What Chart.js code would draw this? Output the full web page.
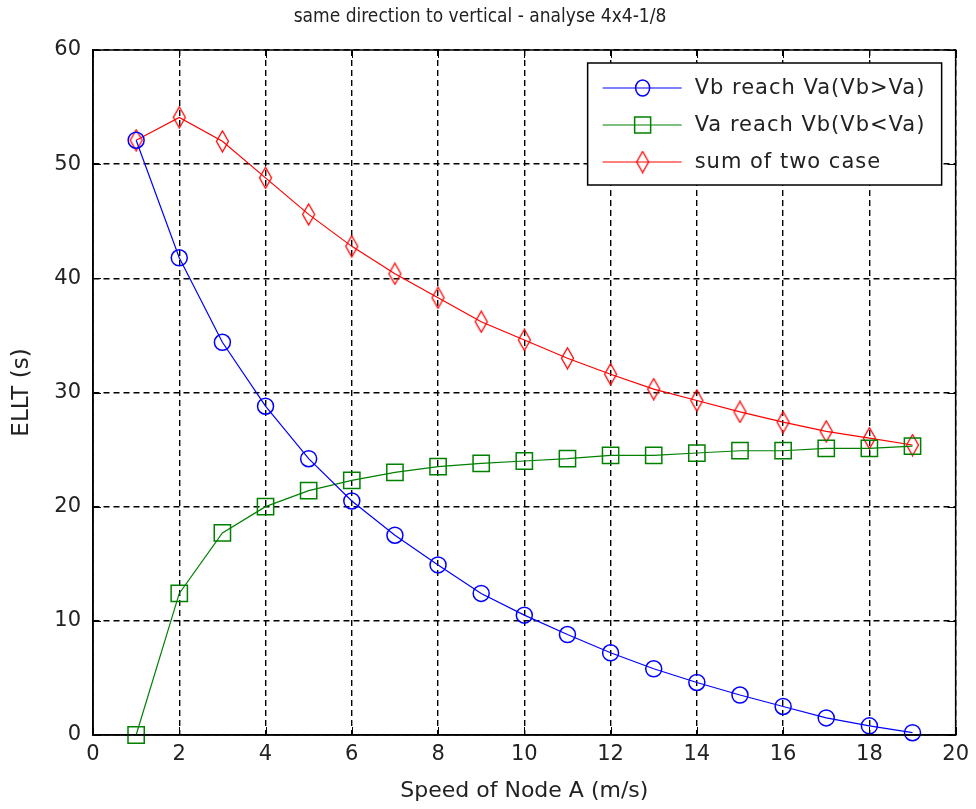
<!DOCTYPE html>
<html>
<head>
<meta charset="utf-8">
<script src="https://cdn.jsdelivr.net/npm/chart.js@4/dist/chart.umd.min.js"></script>
<style>
  body { margin: 0; background: #fff; }
  #wrap { width: 976px; height: 809px; }
</style>
</head>
<body>
<div id="wrap"><canvas id="ellt" width="976" height="809"></canvas></div>
<script>
const speeds = [1, 2, 3, 4, 5, 6, 7, 8, 9, 10, 11, 12, 13, 14, 15, 16, 17, 18, 19];
const vbReachVa = [52.1, 41.8, 34.4, 28.8, 24.2, 20.5, 17.5, 14.9, 12.4, 10.5, 8.8, 7.2, 5.8, 4.6, 3.5, 2.5, 1.5, 0.8, 0.2];
const vaReachVb = [0, 12.4, 17.7, 20.0, 21.4, 22.3, 23.0, 23.5, 23.8, 24.0, 24.2, 24.5, 24.5, 24.7, 24.9, 24.9, 25.1, 25.1, 25.3];
const sumTwoCase = [52.1, 54.1, 52.0, 48.8, 45.6, 42.8, 40.4, 38.3, 36.2, 34.6, 33.0, 31.6, 30.3, 29.3, 28.3, 27.4, 26.6, 26.0, 25.4];
const xTicks = [0, 2, 4, 6, 8, 10, 12, 14, 16, 18, 20];
const yTicks = [0, 10, 20, 30, 40, 50, 60];

const FONT = "'DejaVu Sans', Verdana, sans-serif";
const TITLE_FONT = "'DejaVu Sans Condensed', 'DejaVu Sans', sans-serif";

// tall narrow diamond like the matlab marker
function diamondMarker(color) {
  const c = document.createElement('canvas');
  c.width = 15; c.height = 23;
  const g = c.getContext('2d');
  g.strokeStyle = color;
  g.lineWidth = 1.3;
  g.beginPath();
  g.moveTo(7.5, 1); g.lineTo(13.5, 11.5); g.lineTo(7.5, 22); g.lineTo(1.5, 11.5);
  g.closePath();
  g.stroke();
  return c;
}
const redDiamond = diamondMarker('#ff0000');

function toPoints(ys) {
  return speeds.map((x, i) => ({ x: x, y: ys[i] }));
}

// frame, inward ticks and a matlab-ish legend box
const matlabBox = {
  id: 'matlabBox',
  afterDatasetsDraw(chart) {
    const ctx = chart.ctx;
    const a = chart.chartArea;
    const xs = chart.scales.x, ys = chart.scales.y;
    ctx.save();
    ctx.strokeStyle = '#000';
    ctx.lineWidth = 1.5;
    ctx.strokeRect(a.left, a.top, a.right - a.left, a.bottom - a.top);
    ctx.lineWidth = 1;
    xTicks.forEach(t => {
      const p = Math.round(xs.getPixelForValue(t)) + 0.5;
      ctx.beginPath();
      ctx.moveTo(p, a.bottom); ctx.lineTo(p, a.bottom - 8);
      ctx.moveTo(p, a.top); ctx.lineTo(p, a.top + 8);
      ctx.stroke();
    });
    yTicks.forEach(t => {
      const p = Math.round(ys.getPixelForValue(t)) + 0.5;
      ctx.beginPath();
      ctx.moveTo(a.left, p); ctx.lineTo(a.left + 8, p);
      ctx.moveTo(a.right, p); ctx.lineTo(a.right - 8, p);
      ctx.stroke();
    });

    // legend
    const w = 354, h = 122;
    const lx = a.right - 14 - w, ly = a.top + 13;
    ctx.fillStyle = '#fff';
    ctx.fillRect(lx, ly, w, h);
    ctx.lineWidth = 1.5;
    ctx.strokeRect(lx, ly, w, h);
    ctx.font = '21px ' + FONT;
    ctx.letterSpacing = '1px';
    ctx.textBaseline = 'middle';
    chart.data.datasets.forEach((ds, i) => {
      const yy = ly + 25 + i * 37;
      ctx.strokeStyle = ds.borderColor;
      ctx.lineWidth = 1.2;
      ctx.beginPath();
      ctx.moveTo(lx + 15, yy); ctx.lineTo(lx + 94, yy);
      ctx.stroke();
      const mx = lx + 55;
      ctx.lineWidth = 1.5;
      if (ds.pointStyle === 'circle') {
        ctx.beginPath();
        ctx.ellipse(mx, yy, 7, 8, 0, 0, Math.PI * 2);
        ctx.stroke();
      } else if (ds.pointStyle === 'rect') {
        ctx.strokeRect(mx - 8, yy - 8, 16, 16);
      } else {
        ctx.drawImage(ds.pointStyle, mx - 7.5, yy - 11.5);
      }
      ctx.fillStyle = '#222';
      ctx.fillText(ds.label, lx + 107, yy + 1);
    });
    ctx.restore();
  }
};

new Chart(document.getElementById('ellt'), {
  type: 'line',
  data: {
    datasets: [
      {
        label: 'Vb reach Va(Vb>Va)',
        data: toPoints(vbReachVa),
        borderColor: '#0000ff',
        borderWidth: 1.2,
        pointStyle: 'circle',
        pointRadius: 8,
        pointBorderWidth: 1.5,
        pointBackgroundColor: 'rgba(0,0,0,0)',
        pointBorderColor: '#0000ff'
      },
      {
        label: 'Va reach Vb(Vb<Va)',
        data: toPoints(vaReachVb),
        borderColor: '#008000',
        borderWidth: 1.2,
        pointStyle: 'rect',
        pointRadius: 11.5,
        pointBorderWidth: 1.5,
        pointBackgroundColor: 'rgba(0,0,0,0)',
        pointBorderColor: '#008000'
      },
      {
        label: 'sum of two case',
        data: toPoints(sumTwoCase),
        borderColor: '#ff0000',
        borderWidth: 1.2,
        pointStyle: redDiamond,
        pointRadius: 10,
        pointBackgroundColor: 'rgba(0,0,0,0)',
        pointBorderColor: '#ff0000'
      }
    ]
  },
  options: {
    responsive: false,
    animation: false,
    clip: false,
    layout: { padding: { left: 0, right: 16, top: 0, bottom: 0 } },
    plugins: {
      legend: { display: false },
      tooltip: { enabled: false },
      title: {
        display: true,
        text: 'same direction to vertical - analyse 4x4-1/8',
        color: '#222',
        font: { family: TITLE_FONT, size: 19, weight: 'normal', lineHeight: 1.2 },
        padding: { top: 6, bottom: 21.2 }
      }
    },
    scales: {
      x: {
        type: 'linear',
        min: 0, max: 20,
        afterBuildTicks: s => { s.ticks = xTicks.map(v => ({ value: v })); },
        afterFit: s => { s.height = 74; },
        grid: { color: '#000', lineWidth: 1.4, drawTicks: false },
        border: { display: true, color: '#000', width: 1.5, dash: [6, 4] },
        ticks: { color: '#222', padding: 7, font: { family: FONT, size: 21 } },
        title: { display: true, text: 'Speed of Node A (m/s)', color: '#222', font: { family: FONT, size: 22, lineHeight: 1.2 }, padding: { top: 0, bottom: 5 } }
      },
      y: {
        min: 0, max: 60,
        afterBuildTicks: s => { s.ticks = yTicks.map(v => ({ value: v })); },
        afterFit: s => { s.width = 93; },
        grid: { color: '#000', lineWidth: 1.4, drawTicks: false },
        border: { display: true, color: '#000', width: 1.5, dash: [6, 4] },
        ticks: { color: '#222', padding: 12, font: { family: FONT, size: 21 } },
        title: { display: true, text: 'ELLT (s)', color: '#222', font: { family: FONT, size: 23, lineHeight: 1.2 }, padding: { top: 8, bottom: 0 } }
      }
    }
  },
  plugins: [matlabBox]
});
</script>
</body>
</html>
